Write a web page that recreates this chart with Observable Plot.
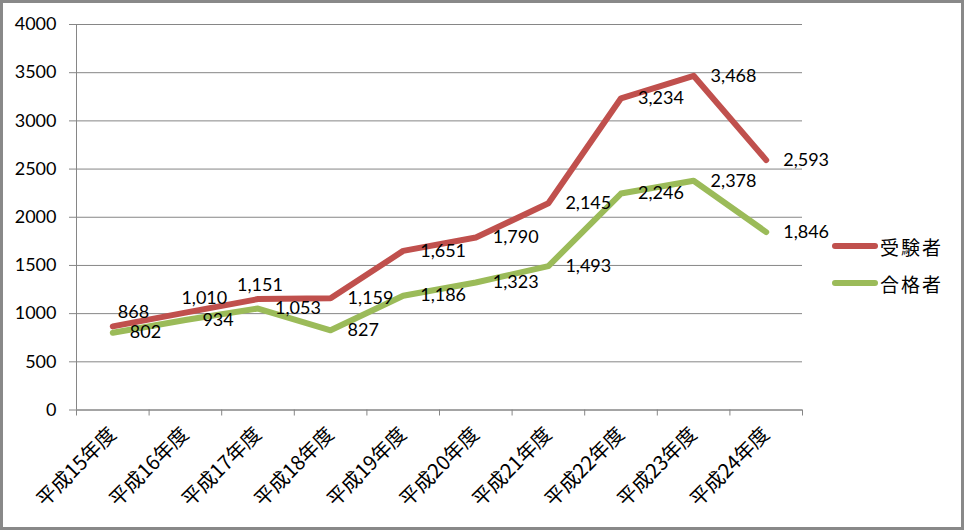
<!DOCTYPE html>
<html><head><meta charset="utf-8">
<script src="https://cdn.jsdelivr.net/npm/d3@7"></script>
<script src="https://cdn.jsdelivr.net/npm/@observablehq/plot@0.6"></script>
<style>
body{margin:0;background:#fff}
#wrap{position:relative;width:964px;height:530px;overflow:hidden;background:#fff}
#chart{position:absolute;left:0;top:0}
#frame{position:absolute;left:0;top:0;width:964px;height:530px;box-sizing:border-box;border:3px solid #898989;pointer-events:none}
.lg{position:absolute;left:832px;height:24px;display:flex;align-items:center;font-family:"Noto Sans CJK JP";font-size:19px;letter-spacing:2px;color:#000}
.sw{width:46px;height:6px;border-radius:3px;margin-right:2px}
</style></head>
<body>
<div id="wrap"><div id="chart"></div><div id="legendbox"></div><div id="frame"></div></div>
<script>
const categories = ["平成15年度","平成16年度","平成17年度","平成18年度","平成19年度","平成20年度","平成21年度","平成22年度","平成23年度","平成24年度"];
const seriesNames = ["受験者","合格者"];
const examinees = [868,1010,1151,1159,1651,1790,2145,3234,3468,2593];
const passers = [802,934,1053,827,1186,1323,1493,2246,2378,1846];
const yTicks = [0,500,1000,1500,2000,2500,3000,3500,4000];
const seriesColors = ["#C0504D","#9BBB59"];
// manual label nudges (series index, category index, dx, dy)
const labelNudges = [[0,0,5,-14],[0,1,-4,-14],[0,2,-21,-14]];

const rows = [];
[examinees, passers].forEach((vals, si) => vals.forEach((v, i) => rows.push({series: seriesNames[si], si, i, value: v})));
const isNudged = d => labelNudges.some(n => n[0] === d.si && n[1] === d.i);
const boundaries = d3.range(categories.length + 1).map(i => i - 0.5);
const fmt = d3.format(",");

const nudgeMarks = labelNudges.map(([si, i, dx, dy]) =>
  Plot.text(rows.filter(d => d.si === si && d.i === i), {x: "i", y: "value", text: d => fmt(d.value), textAnchor: "start", dx, dy, fill: "#000", fontSize: 18})
);

const chart = Plot.plot({
  width: 964, height: 530,
  marginLeft: 76, marginRight: 162, marginTop: 24, marginBottom: 120.5,
  x: {type: "linear", domain: [-0.5, categories.length - 0.5]},
  y: {domain: [0, 4000]},
  color: {domain: seriesNames, range: seriesColors},
  style: {fontFamily: "Lato, 'Open Sans', sans-serif", fontSize: "18px", color: "#000", background: "transparent", overflow: "visible"},
  marks: [
    Plot.gridY(yTicks, {stroke: "#868686", strokeOpacity: 1}),
    Plot.axisY(yTicks, {tickSize: 7, tickPadding: 13, tickFormat: d => String(d), label: null, stroke: "#868686", fontSize: 18}),
    Plot.ruleX([-0.5], {stroke: "#868686"}),
    Plot.axisX(boundaries, {tickSize: 6, tickFormat: () => "", stroke: "#868686", label: null}),
    Plot.axisX(d3.range(categories.length), {tickSize: 0, tickPadding: 21, tickFormat: i => categories[i], tickRotate: -45, fontFamily: "'Noto Sans CJK JP'", fontSize: 20, label: null}),
    Plot.ruleY([0], {stroke: "#868686"}),
    Plot.line(rows, {x: "i", y: "value", z: "series", stroke: "series", strokeWidth: 6, strokeLinejoin: "round", strokeLinecap: "round"}),
    Plot.text(rows.filter(d => !isNudged(d)), {x: "i", y: "value", text: d => fmt(d.value), textAnchor: "start", dx: 17, fill: "#000", fontSize: 18}),
    ...nudgeMarks
  ]
});
document.getElementById("chart").appendChild(chart);

const lb = document.getElementById("legendbox");
seriesNames.forEach((s, k) => {
  const row = document.createElement("div");
  row.className = "lg";
  row.style.top = (234 + k * 37) + "px";
  const sw = document.createElement("div");
  sw.className = "sw";
  sw.style.background = seriesColors[k];
  const t = document.createElement("span");
  t.textContent = s;
  row.appendChild(sw); row.appendChild(t);
  lb.appendChild(row);
});
</script>
</body></html>
